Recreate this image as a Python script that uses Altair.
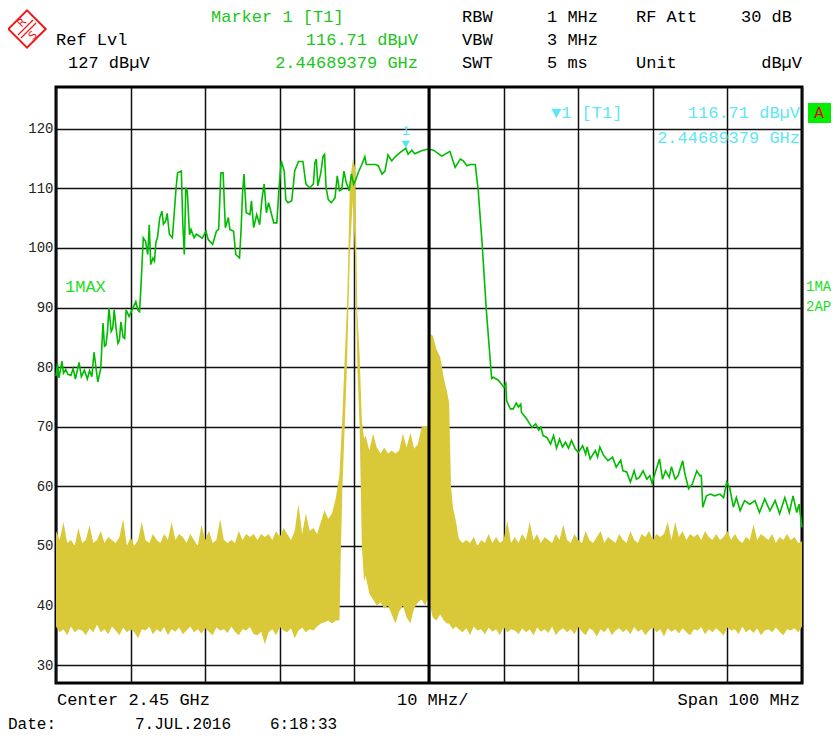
import altair as alt
import pandas as pd

# ---------------- data ----------------
# Trace 1 (1MAX, green): frequency offset from 2400 MHz [MHz], level [dBµV]
g_off = [0.0, 0.2, 0.4, 0.8, 1.0, 1.3, 1.6, 2.0, 2.3, 2.6, 3.1, 3.4, 3.8, 4.2, 4.5, 4.8,
         5.1, 5.6, 6.0, 6.3, 6.5, 6.7, 6.9, 7.1, 7.4, 7.6, 7.8, 8.1, 8.3, 8.5, 8.7, 9.0,
         9.2, 9.4, 9.8, 10.3, 10.7, 11.0, 11.2, 11.4, 11.7, 12.0, 12.3, 12.5, 12.7, 13.0,
         13.2, 13.4, 13.6, 13.9, 14.2, 14.4, 14.7, 14.9, 15.2, 15.6, 16.1, 16.3, 16.8,
         17.0, 17.2, 17.4, 17.6, 17.9, 18.1, 18.5, 18.8, 19.2, 19.6, 20.1, 20.4, 21.0,
         21.5, 21.8, 22.1, 22.4, 22.7, 23.1, 23.3, 23.8, 24.1, 24.6, 24.8, 25.0, 25.2,
         25.5, 26.0, 26.2, 26.5, 26.9, 27.3, 27.6, 27.9, 28.2, 28.5, 28.9, 29.2, 29.6,
         29.9, 30.2, 30.6, 30.8, 31.1, 31.6, 32.0, 32.5, 33.1, 33.5, 34.0, 34.5, 34.7,
         34.9, 35.1, 35.5, 35.8, 36.0, 36.2, 36.5, 36.9, 37.4, 37.7, 38.0, 38.3, 38.6,
         38.9, 39.3, 39.6, 39.9, 40.1, 40.6, 41.0, 41.4, 41.6, 42.1, 42.8, 43.2, 43.7,
         44.1, 44.5, 45.0, 45.4, 46.1, 46.89, 47.2, 47.7, 48.1, 49.0, 49.9, 50.6, 51.7,
         52.8, 53.5, 54.2, 54.6, 55.1, 55.5, 56.2, 56.6, 57.1, 57.7, 58.4, 58.6, 59.3,
         60.05, 60.3, 60.4, 60.9, 61.3, 61.7, 62.0, 62.3, 62.4, 63.1, 63.8, 64.3, 64.7,
         65.0, 65.3, 65.8, 66.3, 66.7, 67.1, 67.5, 67.9, 68.3, 68.7, 69.1, 69.6, 70.0,
         70.6, 71.0, 71.2, 71.6, 72.3, 72.6, 72.9, 73.4, 74.0, 74.6, 75.1, 75.7, 76.0,
         76.5, 77.0, 77.5, 77.8, 78.2, 78.7, 79.2, 79.6, 79.9, 80.4, 80.9, 81.3, 81.7,
         82.2, 82.5, 83.0, 83.4, 84.0, 84.3, 84.8, 85.3, 85.9, 86.3, 86.5, 86.7, 87.2,
         87.7, 88.3, 89.0, 89.5, 89.9, 90.3, 90.8, 91.2, 91.7, 92.3, 93.0, 93.7, 94.3,
         95.0, 95.7, 96.4, 97.0, 97.7, 98.3, 98.8, 99.3, 99.6, 100.0]
g_lvl = [78.5, 80.6, 78.2, 81.0, 79.0, 79.6, 78.8, 78.6, 79.8, 78.0, 80.8, 78.4, 79.5, 78.0, 79.4, 78.4,
         82.5, 77.5, 79.8, 87.4, 83.5, 83.7, 86.0, 89.9, 86.0, 86.5, 89.6, 86.0, 84.0, 84.5, 87.6, 85.0,
         84.8, 89.6, 88.5, 89.9, 91.0, 89.5, 89.3, 93.8, 101.7, 101.1, 98.9, 103.9, 97.2, 98.3,
         97.8, 101.0, 101.7, 105.0, 106.2, 104.0, 104.5, 105.8, 102.3, 101.7, 110.1, 112.6, 112.9,
         104.0, 98.9, 110.1, 109.5, 102.2, 103.1, 101.7, 102.3, 102.0, 101.6, 102.8, 101.4, 100.6,
         102.8, 103.1, 112.6, 112.6, 103.4, 105.1, 103.1, 102.8, 98.9, 98.3, 102.8, 109.0, 112.4,
         105.9, 105.6, 107.9, 103.4, 105.6, 103.9, 108.1, 110.7, 105.9, 107.6, 105.6, 104.2, 104.2,
         110.1, 114.6, 112.9, 108.1, 107.6, 107.9, 112.9, 114.5, 114.5, 110.7, 110.1, 110.7, 114.3,
         114.9, 110.4, 112.6, 115.4, 115.7, 110.1, 108.1, 107.6, 108.4, 112.1, 109.6, 109.8, 112.9,
         111.0, 109.6, 112.4, 110.7, 111.2, 112.9, 114.0, 115.3, 114.0, 114.0, 114.0, 113.8, 112.4,
         112.9, 115.6, 114.6, 115.2, 116.0, 116.71, 115.7, 116.4, 115.8, 116.3, 116.6, 116.4, 115.4,
         116.2, 113.5, 114.9, 114.6, 113.8, 114.0, 114.0, 109.6, 101.1, 89.3, 78.1, 78.3, 77.8,
         76.6, 77.2, 74.4, 73.0, 73.0, 74.0, 73.3, 73.8, 72.4, 71.3, 69.9, 70.5, 69.4,
         69.9, 68.5, 68.2, 67.1, 68.5, 66.4, 67.9, 66.6, 67.4, 66.4, 67.7, 66.3, 65.7,
         66.8, 65.4, 66.6, 64.6, 66.0, 64.9, 66.6, 65.2, 64.3, 64.9, 63.2, 64.4, 62.6,
         62.4, 60.7, 62.6, 61.2, 61.5, 62.6, 61.2, 61.8, 60.5, 62.6, 64.6, 61.2, 62.6,
         61.5, 63.3, 61.2, 61.8, 64.3, 62.1, 59.6, 60.4, 62.6, 61.8, 61.8, 56.5, 58.4,
         58.7, 58.4, 58.7, 58.1, 60.7, 59.8, 56.5, 58.1, 55.9, 57.6, 57.0, 57.6, 55.6,
         57.9, 55.9, 57.6, 55.4, 58.1, 55.6, 58.4, 55.6, 57.0, 53.1]

# Trace 2 (2AP, yellow): upper / lower envelope of the noisy trace
# left noise floor, offsets 0.0 ... 37.5 MHz every 0.5 MHz
yl_hi = [52.5, 51.0, 54.0, 50.5, 51.0, 50.0, 53.0, 50.5, 51.0, 53.5,
         50.5, 51.0, 52.5, 50.5, 51.5, 51.0, 50.5, 51.5, 54.5, 50.0,
         51.5, 50.0, 51.0, 54.0, 51.0, 50.5, 52.0, 51.0, 50.5, 52.0,
         51.0, 54.0, 51.0, 52.0, 51.5, 50.5, 52.0, 51.0, 50.0, 53.5,
         51.0, 52.5, 50.5, 51.0, 54.5, 51.0, 50.5, 51.0, 50.5, 52.5,
         51.0, 52.0, 51.5, 52.0, 51.0, 52.0, 51.5, 52.0, 51.0, 52.5,
         51.5, 53.0, 52.0, 51.0, 52.5, 57.0, 52.0, 55.5, 52.5, 53.0,
         52.0, 54.0, 56.0, 54.5, 55.5, 58.0]
yl_lo = [36.5, 35.5, 36.0, 35.0, 36.5, 35.5, 36.0, 35.8, 35.0, 36.2,
         35.5, 36.8, 35.5, 36.0, 35.2, 36.5, 35.8, 35.0, 36.3, 35.5,
         36.0, 35.5, 34.5, 36.0, 35.8, 36.5, 35.2, 36.0, 35.5, 36.4,
         35.0, 36.0, 35.6, 36.3, 35.2, 35.8, 36.5, 35.5, 36.0, 35.3,
         36.2, 35.6, 35.0, 36.3, 35.8, 36.0, 35.4, 36.5, 35.6, 35.0,
         36.0, 35.8, 36.4, 35.2, 35.0, 35.6, 33.5, 35.5, 36.0, 35.0,
         36.4, 35.8, 35.5, 36.2, 34.5, 35.8, 36.3, 35.5, 36.0, 35.8,
         36.5, 37.0, 37.2, 37.5, 37.0, 37.5]
# signal region
ym_off = [38.0, 38.2, 38.4, 38.7, 39.0, 39.2, 39.4, 39.6, 39.8, 40.1, 40.4, 40.7, 41.0, 41.3,
          41.5, 42.0, 42.5, 43.0, 43.5, 44.0, 44.5, 45.0, 45.5, 46.0, 46.5, 47.0, 47.5, 48.0,
          48.5, 49.0, 49.5,
          49.8, 49.95, 50.5, 51.0, 51.5, 52.0, 52.4, 52.7, 52.95, 53.2, 53.6]
ym_hi = [62.0, 67.0, 72.0, 81.6, 90.0, 99.5, 111.3, 113.0, 114.9, 113.5, 89.0, 82.0, 71.0, 68.0,
         68.5, 66.0, 68.8, 66.5, 65.5, 66.5, 65.5, 66.0, 65.5, 66.0, 68.8, 66.5, 69.0, 66.3,
         67.0, 69.9, 70.0,
         70.0, 85.8, 85.3, 83.0, 81.7, 78.0, 76.0, 74.0, 60.0, 56.5, 54.2]
ym_lo = [37.5, 50.0, 60.0, 70.0, 80.0, 90.0, 99.0, 104.0, 108.0, 98.0, 80.0, 70.0, 50.0, 44.0,
         45.0, 42.0, 41.0, 40.0, 40.5, 39.5, 40.0, 38.5, 37.0, 39.0, 40.0, 38.0, 37.0, 39.5,
         40.5, 41.0, 40.0,
         41.0, 41.0, 38.0, 37.5, 38.5, 37.5, 37.0, 37.0, 36.5, 36.0, 36.5]
# right noise floor, offsets 54.0 ... 100.0 MHz every 0.5 MHz
yr_hi = [51.2, 50.5, 51.0, 50.5, 51.5, 50.0, 51.0, 50.5, 52.0, 50.5,
         51.5, 50.5, 51.0, 54.2, 50.5, 51.5, 50.5, 52.0, 51.0, 54.0,
         51.0, 52.0, 50.5, 51.5, 51.0, 50.5, 52.0, 51.0, 53.6, 51.0,
         50.5, 52.0, 51.0, 50.5, 52.5, 51.0, 50.5, 51.5, 52.5, 50.5,
         51.5, 51.0, 50.5, 52.0, 51.0, 50.5, 52.5, 51.0, 50.5, 52.0,
         51.5, 52.5, 51.0, 52.0, 51.5, 52.0, 54.0, 51.0, 54.0, 51.5,
         52.5, 51.0, 52.0, 51.5, 52.0, 51.0, 52.5, 51.5, 51.0, 52.0,
         51.0, 51.5, 52.5, 51.0, 52.0, 51.0, 50.5, 51.5, 51.0, 53.6,
         51.0, 52.0, 51.5, 51.0, 52.0, 50.5, 51.5, 51.0, 52.0, 51.0,
         51.5, 50.5, 50.8]
yr_lo = [36.0, 35.5, 36.2, 35.0, 36.5, 35.8, 36.0, 35.2, 36.3, 35.6,
         36.0, 35.0, 36.4, 35.5, 36.0, 35.8, 35.2, 36.2, 35.5, 36.0,
         35.0, 36.3, 35.6, 36.0, 35.4, 36.5, 35.0, 35.8, 36.2, 35.5,
         36.0, 35.2, 36.4, 35.6, 35.0, 36.2, 35.8, 34.8, 36.0, 35.5,
         36.3, 35.0, 35.8, 36.2, 35.5, 36.0, 35.2, 36.4, 35.6, 36.0,
         35.0, 35.8, 36.3, 35.5, 36.0, 34.8, 36.2, 35.6, 36.0, 35.3,
         36.2, 35.5, 35.0, 36.0, 35.8, 36.4, 35.2, 36.0, 35.5, 36.2,
         35.6, 35.0, 36.3, 35.8, 36.0, 35.2, 36.5, 35.5, 36.0, 35.4,
         36.2, 35.0, 35.8, 36.0, 35.5, 36.3, 35.6, 35.0, 36.0, 35.8,
         36.2, 35.5, 36.5]

marker_off, marker_lvl = 46.89379, 116.71
y_ticks = [30, 40, 50, 60, 70, 80, 90, 100, 110, 120]
x_grid = [2.40, 2.41, 2.42, 2.43, 2.44, 2.45, 2.46, 2.47, 2.48, 2.49, 2.50]

# ---------------- tables ----------------
green = pd.DataFrame({"f": [(2400 + o) / 1000 for o in g_off], "v": g_lvl})
n_l = min(len(yl_hi), len(yl_lo))
n_r = min(len(yr_hi), len(yr_lo))
n_m = min(len(ym_off), len(ym_hi), len(ym_lo))
y_off = [0.5 * i for i in range(n_l)] + ym_off[:n_m] + [54.0 + 0.5 * i for i in range(n_r)]
y_hi = yl_hi[:n_l] + ym_hi[:n_m] + yr_hi[:n_r]
y_lo = yl_lo[:n_l] + ym_lo[:n_m] + yr_lo[:n_r]
yellow = pd.DataFrame({"f": [(2400 + o) / 1000 for o in y_off], "hi": y_hi, "lo": y_lo})
marker = pd.DataFrame({"f": [(2400 + marker_off) / 1000], "v": [marker_lvl]})

MONO = "Liberation Mono"
GRID = "#111111"

X = alt.X("f:Q", title=None,
          scale=alt.Scale(domain=[2.40, 2.50], nice=False, zero=False),
          axis=alt.Axis(values=x_grid, labels=False, ticks=False, domain=False,
                        grid=True, gridColor=GRID, gridWidth=1.5, gridOpacity=1))
Y_AX = alt.Axis(values=y_ticks, ticks=False, domain=False, grid=True, gridColor=GRID,
                gridWidth=1.5, gridOpacity=1, labelFont=MONO, labelFontSize=14,
                labelColor="#222222", labelPadding=3)
YS = alt.Scale(domain=[27, 127], nice=False, zero=False)

band = alt.Chart(yellow).mark_area(color="#d9c837", opacity=1, interpolate="linear").encode(
    x=X, y=alt.Y("hi:Q", title=None, scale=YS, axis=Y_AX), y2="lo:Q")
trace1 = alt.Chart(green).mark_line(color="#00bb00", strokeWidth=1.6).encode(
    x=X, y=alt.Y("v:Q", title=None, scale=YS, axis=Y_AX))
center = alt.Chart(pd.DataFrame({"f": [2.45]})).mark_rule(color="#000000", strokeWidth=3).encode(x=X)
mk = alt.Chart(marker).mark_point(shape="triangle-down", filled=True, size=70, color="#55e6f6",
                                  opacity=1, yOffset=-4).encode(
    x=X, y=alt.Y("v:Q", title=None, scale=YS, axis=Y_AX))
mk_lbl = alt.Chart(marker).mark_text(text="1", fontSize=13, font=MONO, color="#55e6f6",
                                     dy=-17).encode(
    x=X, y=alt.Y("v:Q", title=None, scale=YS, axis=Y_AX))


def label(s, x, y, color="#000000", align="left", size=17):
    return alt.Chart(pd.DataFrame({"s": [s]})).mark_text(
        align=align, baseline="middle", fontSize=size, font=MONO, color=color).encode(
        x=alt.value(x), y=alt.value(y), text="s:N")


HG = "#22c422"   # header green
CY = "#5fe6f6"   # marker cyan
texts = [
    label("Marker 1 [T1]", 155, -70, HG),
    label("116.71 dBµV", 362, -47, HG, "right"),
    label("2.44689379 GHz", 362, -24, HG, "right"),
    label("Ref Lvl", 0, -47),
    label("127 dBµV", 12, -24),
    label("RBW", 406, -70), label("1 MHz", 491, -70), label("RF Att", 580, -70),
    label("30 dB", 736, -70, align="right"),
    label("VBW", 406, -47), label("3 MHz", 491, -47),
    label("SWT", 406, -24), label("5 ms", 491, -24), label("Unit", 580, -24),
    label("dBµV", 746, -24, align="right"),
    label("▼1 [T1]", 495, 26, CY),
    label("116.71 dBµV", 744, 26, CY, "right"),
    label("2.44689379 GHz", 744, 51, CY, "right"),
    label("1MAX", 9, 200, "#22dd22"),
    label("1MA", 750, 200, "#22dd22", size=14),
    label("2AP", 750, 220, "#22dd22", size=14),
    label("Center 2.45 GHz", 1, 613),
    label("10 MHz/", 341, 613),
    label("Span 100 MHz", 744, 613, align="right"),
    label("Date:", -48, 637, size=16),
    label("7.JUL.2016", 79, 637, size=16),
    label("6:18:33", 214, 637, size=16),
]

# "A" status box
a_box = alt.Chart(pd.DataFrame({"s": ["A"]})).mark_rect(color="#00ee00").encode(
    x=alt.value(752), x2=alt.value(775), y=alt.value(16), y2=alt.value(36))
a_txt = label("A", 763, 26, "#e00000", "center", 16)

# R&S logo
RED = "#ee1818"
logo = alt.Chart(pd.DataFrame({"s": ["logo"]})).mark_point(
    shape="diamond", size=1400, filled=False, stroke=RED, strokeWidth=2, opacity=1).encode(
    x=alt.value(-29), y=alt.value(-58))
stripes = [alt.Chart(pd.DataFrame({"s": ["st"]})).mark_rule(color=RED, strokeWidth=1.3).encode(
    x=alt.value(-36.5 + d), y=alt.value(-50.5 + d), x2=alt.value(-21.5 + d), y2=alt.value(-65.5 + d))
    for d in (-1.5, 1.5)]
logo_r = alt.Chart(pd.DataFrame({"s": ["R"]})).mark_text(
    fontSize=11, font="DejaVu Sans", color=RED, angle=315).encode(
    x=alt.value(-34), y=alt.value(-64), text="s:N")
logo_s = alt.Chart(pd.DataFrame({"s": ["S"]})).mark_text(
    fontSize=11, font="DejaVu Sans", color=RED, angle=315).encode(
    x=alt.value(-23), y=alt.value(-51), text="s:N")

chart = alt.layer(
    band, trace1, center, mk, mk_lbl, a_box, a_txt, logo, *stripes, logo_r, logo_s, *texts
).properties(
    width=746, height=596,
    padding={"left": 48, "top": 79, "right": 30, "bottom": 53},
    autosize=alt.AutoSizeParams(type="none"),
    background="#ffffff",
).configure_view(
    stroke="#000000", strokeWidth=3
)

chart.save("out.html", embed_options={"renderer": "svg", "actions": False})
